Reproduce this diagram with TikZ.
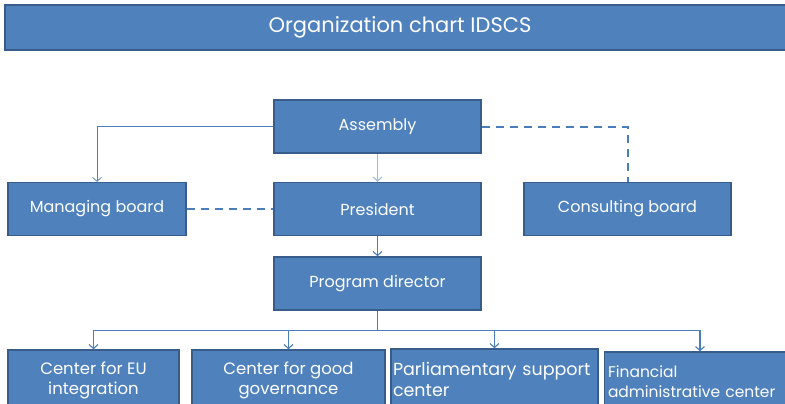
\documentclass[tikz,border=0pt]{standalone}
\usepackage{fontspec}
\setmainfont{Poppins}
\usetikzlibrary{arrows,arrows.meta,shapes,calc}

\definecolor{boxfill}{HTML}{4F81BD}
\definecolor{boxborder}{HTML}{385D8A}
\definecolor{linkblue}{HTML}{4A7EBB}
\definecolor{lightblue}{HTML}{9DB9DC}

\begin{document}
\begin{tikzpicture}[x=1pt,y=-1pt,->,>={Straight Barb[length=4pt,width=9pt]},auto,
  main node/.style={draw=boxborder,line width=1.5pt,fill=boxfill,text=white,
    minimum height=53pt,inner sep=2pt,font=\fontsize{16}{19}\selectfont},
  low node/.style={main node,minimum height=60pt,font=\fontsize{16.5}{20}\selectfont},
  title node/.style={main node,minimum height=45pt,font=\fontsize{21}{24}\selectfont},
  link/.style={draw=linkblue,line width=1.1pt},
  dash link/.style={draw=linkblue,line width=2pt,dash pattern=on 8pt off 6pt,-}]

  \useasboundingbox (0,0) rectangle (785,404);

  \node[title node,minimum width=790pt] (title) at (400,27.5) {Organization chart IDSCS};

  \node[main node,minimum width=207pt] (assembly) at (377.5,126.5) {Assembly};
  \node[main node,minimum width=207pt] (president) at (377.5,209) {President};
  \node[main node,minimum width=178pt] (managing) at (97,209) {Managing board};
  \node[main node,minimum width=207pt] (consulting) at (627.5,209) {Consulting board};
  \node[main node,minimum width=207pt] (director) at (377.5,283.5) {Program director};

  \node[low node,minimum width=171pt,align=center] (eu) at (93.5,380) {Center for EU\\integration};
  \node[low node,minimum width=193pt,align=center] (good) at (288.5,380) {Center for good\\governance};
  \node[low node,minimum width=207pt,text width=203pt,align=left,
    font=\fontsize{17.5}{21}\selectfont] (parl) at (494.5,379) {\mbox{Parliamentary support}\\center};
  \node[low node,minimum width=181pt,text width=174pt,align=left,
    font=\fontsize{15.5}{20}\selectfont] (fin) at (695,382) {Financial\\administrative center};

  \draw[link,line width=0.7pt] (assembly.west) -| (managing.north);
  \draw[link,draw=lightblue] (assembly) -- (president);
  \draw[dash link] (assembly.east) -| (consulting.north);
  \draw[dash link] (managing) -- (president);
  \draw[link] (president) -- (director);

  \draw[link,-] (director.south) -- ++(0,20) coordinate (bus);
  \foreach \n/\dx in {eu/0,good/0,parl/0,fin/5}
    \draw[link] (bus) -| ([xshift=\dx pt]\n.north);
\end{tikzpicture}
\end{document}
